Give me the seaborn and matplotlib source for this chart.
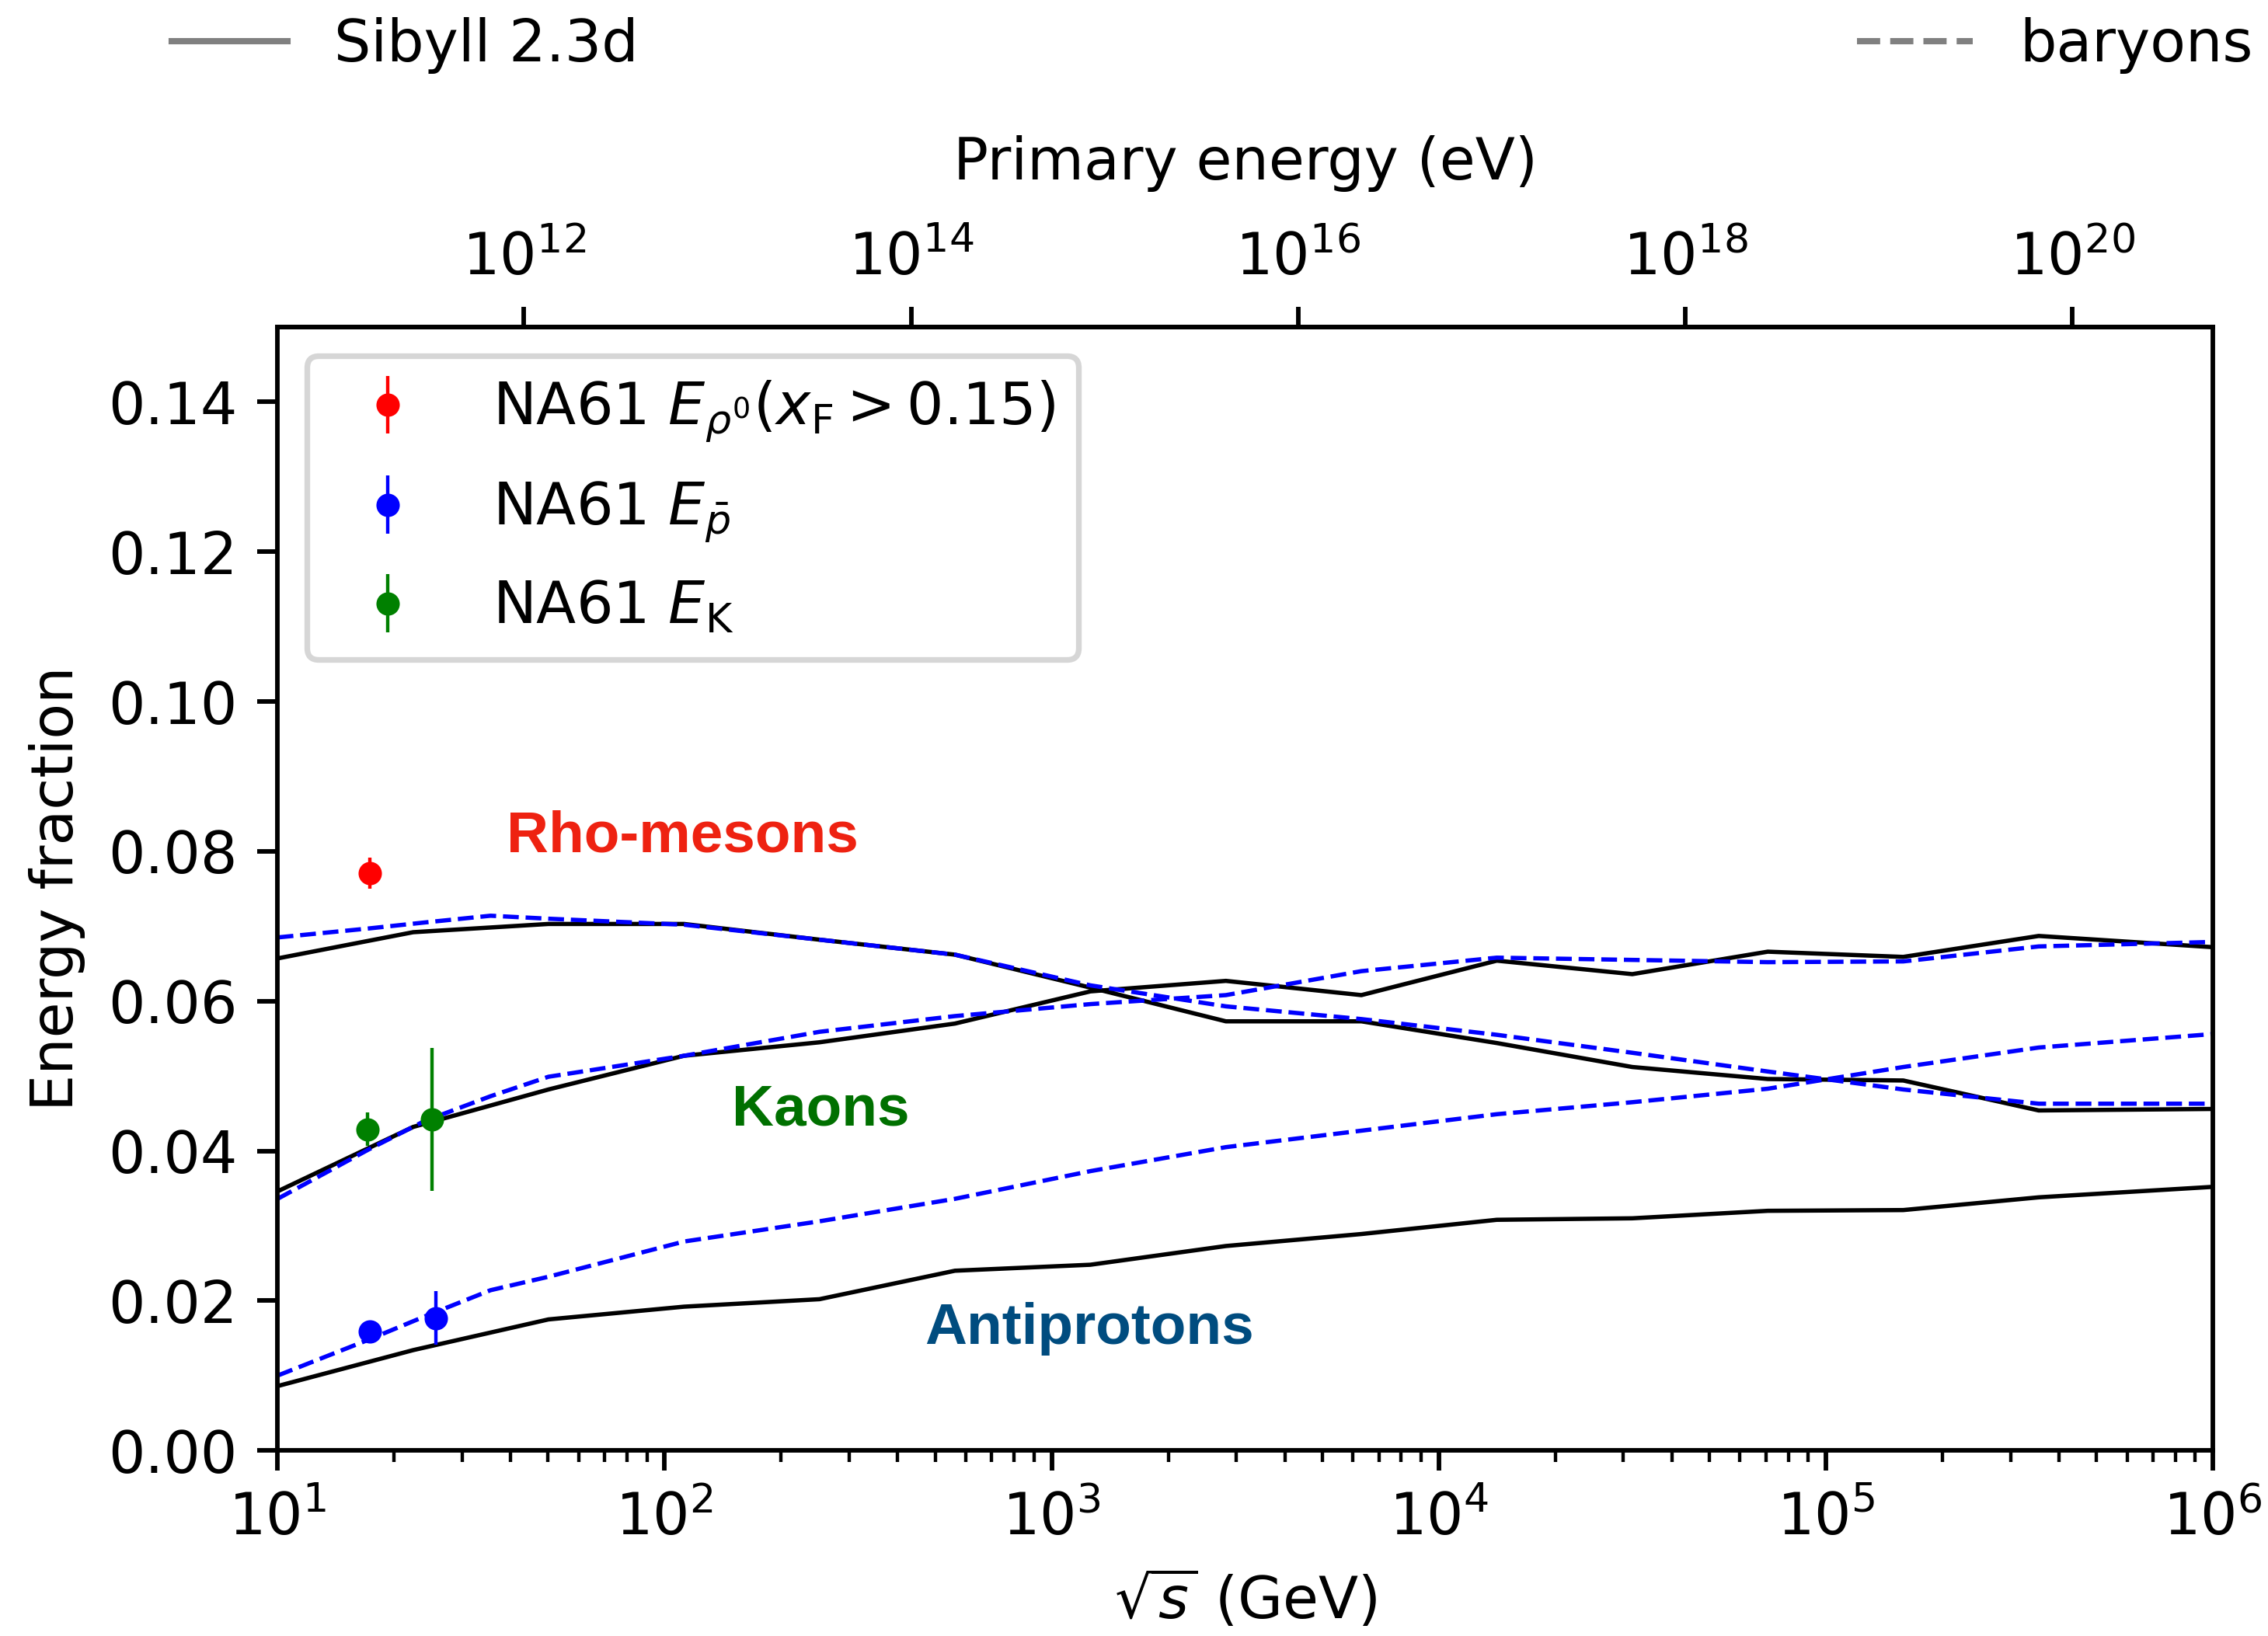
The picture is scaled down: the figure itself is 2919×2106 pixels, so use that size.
import numpy as np
import pandas as pd
import matplotlib
matplotlib.use("Agg")
import matplotlib.pyplot as plt
import seaborn as sns
from matplotlib.lines import Line2D
from matplotlib.ticker import FixedLocator, NullLocator

# ---------------- data ----------------
# Sibyll 2.3d (solid black) sampled at sqrt(s) [GeV]
sqrt_s_sibyll = [10, 22.4, 50.1, 112.2, 251.2, 562.3, 1259, 2818, 6310,
                 14125, 31623, 70795, 158489, 354813, 1.0e6]
rho_sibyll = [0.0657, 0.0692, 0.0703, 0.0703, 0.0682, 0.0662, 0.0618, 0.0573,
              0.0573, 0.0544, 0.0512, 0.0496, 0.0494, 0.0454, 0.0456]
kaon_sibyll = [0.0346, 0.0432, 0.0482, 0.0527, 0.0545, 0.0570, 0.0613, 0.0627,
               0.0608, 0.0654, 0.0636, 0.0666, 0.0659, 0.0687, 0.0672]
pbar_sibyll = [0.0086, 0.0134, 0.0175, 0.0192, 0.0202, 0.0240, 0.0248, 0.0273,
               0.0289, 0.0308, 0.0310, 0.0320, 0.0321, 0.0338, 0.0352]

# "baryons" variant (dashed blue)
sqrt_s_baryons = [10, 17.2, 24.0, 35.5, 50.1, 112.2, 251.2, 562.3, 1259, 2818,
                  6310, 14125, 31623, 70795, 158489, 354813, 1.0e6]
rho_baryons = [0.0685, 0.0697, 0.0705, 0.0714, 0.0710, 0.0702, 0.0682, 0.0662,
               0.0621, 0.0593, 0.0576, 0.0555, 0.0531, 0.0506, 0.0482, 0.0463, 0.0463]
kaon_baryons = [0.0336, 0.0402, 0.0440, 0.0473, 0.0499, 0.0527, 0.0559, 0.0580,
                0.0596, 0.0608, 0.0640, 0.0658, 0.0655, 0.0652, 0.0653, 0.0673, 0.0679]
pbar_baryons = [0.0100, 0.0148, 0.0179, 0.0214, 0.0232, 0.0279, 0.0306, 0.0336,
                0.0373, 0.0405, 0.0427, 0.0449, 0.0465, 0.0483, 0.0512, 0.0538, 0.0556]

# NA61 measurements
na61_rho_x = [17.3]
na61_rho_y = [0.0771]
na61_rho_err = [0.0021]
na61_pbar_x = [17.3, 25.7]
na61_pbar_y = [0.0159, 0.0177]
na61_pbar_err = [0.0006, 0.0036]
na61_kaon_x = [17.05, 25.1]
na61_kaon_y = [0.0429, 0.0442]
na61_kaon_err = [0.0022, 0.0095]

top_ticks = [1e12, 1e14, 1e16, 1e18, 1e20]
y_ticks = [0.00, 0.02, 0.04, 0.06, 0.08, 0.10, 0.12, 0.14]

# ---------------- figure ----------------
DPI = 528
FS = 10.2
plt.rcParams["font.size"] = FS
fig = plt.figure(figsize=(2919 / DPI, 2106 / DPI), dpi=DPI)
ax = fig.add_axes([0.1224, 0.1134, 0.8533, 0.6867])
ax.set_xscale("log")

for yv in (rho_sibyll, kaon_sibyll, pbar_sibyll):
    sns.lineplot(x=sqrt_s_sibyll, y=yv, ax=ax, color="black", lw=0.75,
                 estimator=None, sort=False, legend=False)
for yv in (rho_baryons, kaon_baryons, pbar_baryons):
    sns.lineplot(x=sqrt_s_baryons, y=yv, ax=ax, color="blue", lw=0.75,
                 linestyle="--", estimator=None, sort=False, legend=False)

eb_kw = dict(fmt="o", ms=3.1, elinewidth=0.6, capsize=0)
ax.errorbar(na61_rho_x, na61_rho_y, yerr=na61_rho_err, color="red",
            label=r"NA61 $E_{\rho^0}(x_\mathrm{F} > 0.15)$", **eb_kw)
ax.errorbar(na61_pbar_x, na61_pbar_y, yerr=na61_pbar_err, color="blue",
            label=r"NA61 $E_{\bar{p}}$", **eb_kw)
ax.errorbar(na61_kaon_x, na61_kaon_y, yerr=na61_kaon_err, color="green",
            label=r"NA61 $E_\mathrm{K}$", **eb_kw)

ax.set_xlim(10, 1e6)
ax.set_ylim(0, 0.15)
ax.set_yticks(y_ticks)
ax.set_xlabel(r"$\sqrt{s}$ (GeV)")
ax.set_ylabel("Energy fraction")

txt_kw = dict(fontsize=FS, fontweight="bold", family=["Liberation Sans", "DejaVu Sans"],
              ha="left", va="baseline")
ax.text(39.0, 0.0799, "Rho-mesons", color="#ee2211", **txt_kw)
ax.text(149, 0.0434, "Kaons", color="#007000", **txt_kw)
ax.text(470, 0.01425, "Antiprotons", color="#004c7f", **txt_kw)

ax.legend(loc="upper left", labelspacing=0.6)

# secondary (primary energy) axis
M_P = 0.938


def to_energy(x):
    x = np.asarray(x, dtype=float)
    return x ** 2 / (2 * M_P) * 1e9


def to_sqrts(e):
    e = np.clip(np.asarray(e, dtype=float), 1e-300, None)
    return np.sqrt(e * 2 * M_P / 1e9)


secax = ax.secondary_xaxis("top", functions=(to_energy, to_sqrts))
secax.xaxis.set_major_locator(FixedLocator(top_ticks))
secax.xaxis.set_minor_locator(NullLocator())
secax.set_xlabel("Primary energy (eV)", labelpad=9)

# top legend (model styles)
handles = [Line2D([], [], color="gray", lw=1.1),
           Line2D([], [], color="gray", lw=1.1, ls="--")]
fig.legend(handles=handles, labels=["Sibyll 2.3d", "baryons"],
           loc="center left", bbox_to_anchor=(0.0653, 0.972, 0.9383, 0),
           mode="expand", ncol=2, frameon=False, borderaxespad=0)

fig.savefig("out.png", dpi=DPI)
